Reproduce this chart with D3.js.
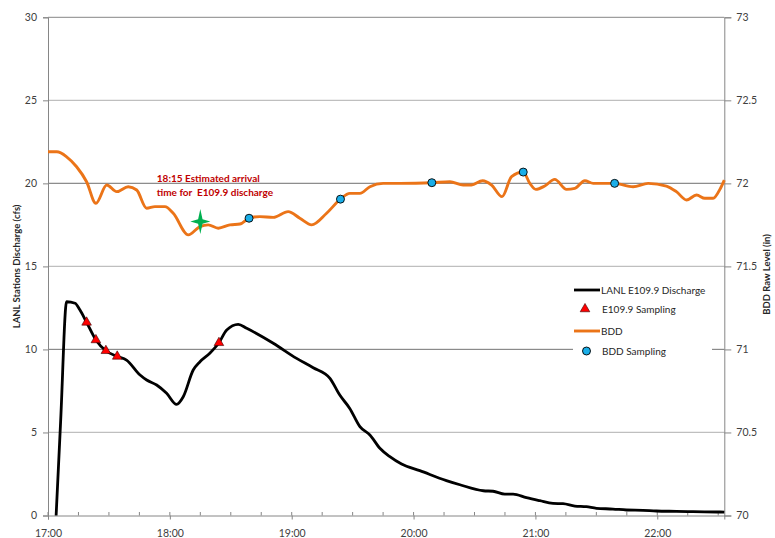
<!DOCTYPE html>
<html><head><meta charset="utf-8">
<script src="https://cdn.jsdelivr.net/npm/d3@7/dist/d3.min.js"></script>
<style>
body{margin:0;background:#fff}
svg{display:block}
text{font-family:Lato,"Open Sans",sans-serif}
</style>
</head><body>
<svg id="chart" width="775" height="538"></svg>
<script>
// ---------- data ----------
const dischargeTimes = ["17:04:00","17:06:15","17:09:10","17:13:20","17:15:45","17:19:00","17:23:35","17:28:30","17:34:05","17:38:40","17:45:20","17:48:35","17:53:30","17:58:25","18:03:20","18:06:35","18:11:30","18:14:50","18:19:40","18:24:10","18:28:00","18:33:40","18:37:50","18:50:55","19:02:25","19:10:35","19:18:50","19:23:40","19:28:35","19:33:35","19:38:30","19:43:25","19:48:20","19:54:05","20:03:05","20:16:10","20:22:50","20:34:20","20:39:10","20:44:55","20:49:00","20:55:35","21:02:10","21:08:40","21:13:35","21:19:25","21:25:05","21:30:05","21:38:10","21:44:50","21:53:00","21:59:35","22:09:25","22:17:35","22:30:50","22:33:00"];
const dischargeValues = [0,5.75,12.87,12.78,12.37,11.63,10.57,9.92,9.58,9.36,8.46,8.16,7.86,7.36,6.69,7.15,8.76,9.26,9.77,10.40,11.17,11.51,11.27,10.37,9.46,8.90,8.26,7.25,6.45,5.35,4.85,4.05,3.54,3.10,2.70,2.10,1.85,1.49,1.46,1.29,1.29,1.07,0.89,0.73,0.71,0.57,0.53,0.43,0.39,0.33,0.31,0.27,0.25,0.23,0.21,0.20];

const samplingTimes = ["17:19:00","17:23:35","17:28:30","17:34:05","18:24:10"];
const samplingValues = [11.63,10.57,9.92,9.58,10.40];

const bddTimes = ["17:00:00","17:04:20","17:09:10","17:14:05","17:19:00","17:23:35","17:28:55","17:33:50","17:39:30","17:43:40","17:48:35","17:52:40","17:57:35","18:01:40","18:09:05","18:14:50","18:18:55","18:23:50","18:29:35","18:34:30","18:39:00","18:44:20","18:50:55","18:58:15","19:04:00","19:09:50","19:17:10","19:24:00","19:28:35","19:33:35","19:38:30","19:45:00","19:53:15","20:09:00","20:17:55","20:24:25","20:28:30","20:34:00","20:38:25","20:43:35","20:48:15","20:54:00","20:57:15","21:00:10","21:04:35","21:09:30","21:15:20","21:19:25","21:24:20","21:28:25","21:39:00","21:48:05","21:55:30","22:04:30","22:09:25","22:14:25","22:19:20","22:23:25","22:27:30","22:30:50","22:33:00"];
const bddValues = [72.19,72.19,72.16,72.10,72.01,71.88,71.99,71.95,71.98,71.96,71.85,71.86,71.86,71.82,71.69,71.74,71.75,71.73,71.75,71.755,71.79,71.80,71.795,71.83,71.79,71.75,71.82,71.905,71.94,71.94,71.98,72.00,72.00,72.004,72.01,71.99,71.99,72.016,71.99,71.92,72.04,72.068,72.00,71.964,71.984,72.024,71.964,71.97,72.016,72.00,72.00,71.98,72.00,71.984,71.95,71.90,71.93,71.91,71.91,71.964,72.02];

const bddSampleTimes = ["18:39:00","19:24:00","20:09:00","20:54:00","21:39:00"];
const bddSampleValues = [71.79,71.905,72.004,72.068,72.00];

const arrivalTime = "18:15:00";
const arrivalLevel = 71.77;
const arrivalNote = ["18:15 Estimated arrival","time for  E109.9 discharge"];

const leftTicks = [0,5,10,15,20,25,30];
const rightTicks = [70,70.5,71,71.5,72,72.5,73];
const hourTicks = ["17:00:00","18:00:00","19:00:00","20:00:00","21:00:00","22:00:00"];
const timeDomain = ["17:00:00","22:33:00"];

const leftTitle = "LANL Stations Discharge (cfs)";
const rightTitle = "BDD Raw Level (in)";
const legendLabels = ["LANL E109.9 Discharge","E109.9 Sampling","BDD","BDD Sampling"];

// ---------- setup ----------
const parse = d3.timeParse("%H:%M:%S");
const fmt = d3.timeFormat("%H:%M");
const svg = d3.select("#chart");
const L = 48, R = 724.3, T = 17.3, B = 515.5;

const x = d3.scaleTime().domain(timeDomain.map(parse)).range([L, R]);
const yL = d3.scaleLinear().domain([0, 30]).range([B, T]);
const yR = d3.scaleLinear().domain([70, 73]).range([B, T]);

const gray = "#868686", light = "#BFBFBF";

// gridlines (primary axis)
svg.append("g").selectAll("line").data(leftTicks.filter(d => d > 0 && d < 30)).join("line")
  .attr("x1", L).attr("x2", R).attr("y1", d => yL(d)).attr("y2", d => yL(d))
  .attr("stroke", light).attr("stroke-width", 1.3);
// gridlines (secondary axis)
svg.append("g").selectAll("line").data([71, 72, 73]).join("line")
  .attr("x1", L).attr("x2", R).attr("y1", d => yR(d)).attr("y2", d => yR(d))
  .attr("stroke", gray).attr("stroke-width", 1);

// left axis
const axL = d3.axisLeft(yL).tickValues(leftTicks).tickSize(5).tickPadding(6).tickFormat(d3.format("d"));
const gL = svg.append("g").attr("transform", `translate(${L},0)`).call(axL);
// right axis
const axR = d3.axisRight(yR).tickValues(rightTicks).tickSize(7).tickPadding(5).tickFormat(d => d3.format("")(d));
const gR = svg.append("g").attr("transform", `translate(${R},0)`).call(axR);
// bottom axis: minor ticks every 15 min inside, hour ticks outside
const minorTicks = d3.timeMinute.every(15).range(x.domain()[0], x.domain()[1]);
svg.append("g").selectAll("line").data(minorTicks).join("line")
  .attr("x1", d => x(d)).attr("x2", d => x(d)).attr("y1", B).attr("y2", B - 3.5)
  .attr("stroke", gray).attr("stroke-width", 1);
const axB = d3.axisBottom(x).tickValues(hourTicks.map(parse)).tickSize(4).tickPadding(10).tickFormat(fmt);
const gB = svg.append("g").attr("transform", `translate(0,${B})`).call(axB);

[gL, gR, gB].forEach(g => {
  g.select(".domain").attr("stroke", gray);
  g.selectAll(".tick line").attr("stroke", gray);
  g.selectAll(".tick text").attr("fill", "#404040").style("font-size", "10.5px").style("font-family", "Lato");
});

// axis titles
svg.append("text").attr("transform", `translate(20,${(T + B) / 2}) rotate(-90)`)
  .attr("text-anchor", "middle").style("font-size", "9.5px").style("font-weight", "bold").attr("fill", "#262626")
  .text(leftTitle);
svg.append("text").attr("transform", `translate(770,${(T + B) / 2 + 8}) rotate(-90)`)
  .attr("text-anchor", "middle").style("font-size", "9.5px").style("font-weight", "bold").attr("fill", "#262626")
  .text(rightTitle);

// ---------- series ----------
const dischargeData = dischargeTimes.map((t, i) => ({t: parse(t), v: dischargeValues[i]}));
const bddData = bddTimes.map((t, i) => ({t: parse(t), v: bddValues[i]}));

svg.append("path").datum(dischargeData)
  .attr("d", d3.line().x(d => x(d.t)).y(d => yL(d.v)).curve(d3.curveMonotoneX))
  .attr("fill", "none").attr("stroke", "#000").attr("stroke-width", 2.8).attr("stroke-linejoin", "round");

svg.append("path").datum(bddData)
  .attr("d", d3.line().x(d => x(d.t)).y(d => yR(d.v)).curve(d3.curveMonotoneX))
  .attr("fill", "none").attr("stroke", "#EB7418").attr("stroke-width", 2.9).attr("stroke-linejoin", "round");

const tri = d3.symbol().type(d3.symbolTriangle).size(40);
svg.append("g").selectAll("path").data(samplingTimes.map((t, i) => ({t: parse(t), v: samplingValues[i]}))).join("path")
  .attr("d", tri).attr("transform", d => `translate(${x(d.t)},${yL(d.v)})`)
  .attr("fill", "#FF0000").attr("stroke", "#3a0000").attr("stroke-width", 0.6);

svg.append("g").selectAll("circle").data(bddSampleTimes.map((t, i) => ({t: parse(t), v: bddSampleValues[i]}))).join("circle")
  .attr("cx", d => x(d.t)).attr("cy", d => yR(d.v)).attr("r", 4)
  .attr("fill", "#1AAEE8").attr("stroke", "#000").attr("stroke-width", 0.9);

// star
const sx = x(parse(arrivalTime)), sy = yR(arrivalLevel);
const rx = 10, ry = 12.5, w = 2.2;
svg.append("path")
  .attr("d", `M0,${-ry}L${w},${-w}L${rx},0L${w},${w}L0,${ry}L${-w},${w}L${-rx},0L${-w},${-w}Z`)
  .attr("transform", `translate(${sx},${sy})`).attr("fill", "#00B050");

// annotation
const note = svg.append("text").attr("x", sx - 43.5).attr("y", 182)
  .attr("fill", "#C00000").style("font-size", "10px").style("font-weight", "bold").style("white-space", "pre");
arrivalNote.forEach((s, i) => note.append("tspan").attr("x", sx - 43.5).attr("dy", i ? 13.5 : 0).text(s));

// ---------- legend ----------
const lg = svg.append("g");
lg.append("rect").attr("x", 573).attr("y", 279).attr("width", 139).attr("height", 84).attr("fill", "#fff");
const ly = [290, 309, 331, 351];
lg.append("line").attr("x1", 574).attr("x2", 600).attr("y1", ly[0]).attr("y2", ly[0]).attr("stroke", "#000").attr("stroke-width", 2.8);
lg.append("path").attr("d", tri).attr("transform", `translate(585,${ly[1]})`).attr("fill", "#FF0000").attr("stroke", "#3a0000").attr("stroke-width", 0.6);
lg.append("line").attr("x1", 574).attr("x2", 600).attr("y1", ly[2]).attr("y2", ly[2]).attr("stroke", "#EB7418").attr("stroke-width", 2.9);
lg.append("circle").attr("cx", 586.5).attr("cy", ly[3]).attr("r", 4).attr("fill", "#1AAEE8").attr("stroke", "#000").attr("stroke-width", 0.9);
legendLabels.forEach((s, i) => {
  lg.append("text").attr("x", i === 0 || i === 2 ? 601 : 602).attr("y", ly[i]).attr("dy", "0.35em")
    .style("font-size", "10px").attr("fill", "#262626").text(s);
});
</script>
</body></html>
